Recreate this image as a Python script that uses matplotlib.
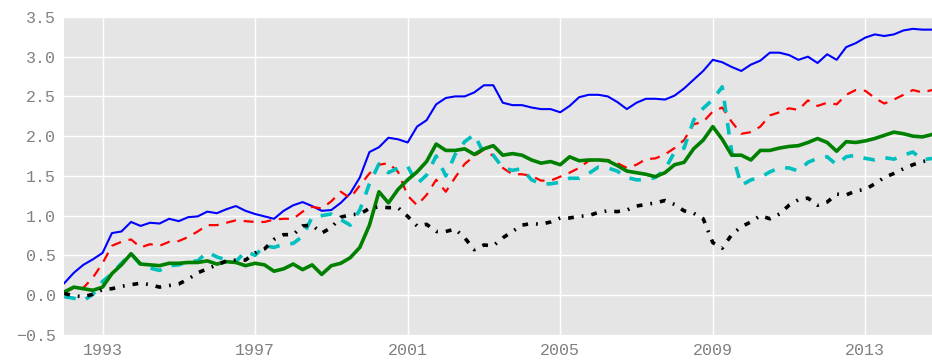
import numpy as np
import pandas as pd
import matplotlib
matplotlib.use("Agg")
import matplotlib.pyplot as plt
import matplotlib.dates as mdates

plt.style.use("ggplot")

# quarterly observations, 1992Q1 .. 2014Q4
fechas = pd.date_range("1992-01-01", periods=92, freq="QS")

azul = [0.15, 0.28, 0.38, 0.45, 0.53, 0.78, 0.80, 0.92, 0.87, 0.91, 0.90, 0.96,
        0.93, 0.98, 0.99, 1.05, 1.03, 1.08, 1.12, 1.06, 1.02, 0.99, 0.96, 1.06,
        1.13, 1.17, 1.12, 1.06, 1.07, 1.16, 1.28, 1.48, 1.80, 1.86, 1.98, 1.96,
        1.92, 2.12, 2.20, 2.40, 2.48, 2.50, 2.50, 2.55, 2.64, 2.64, 2.42, 2.39,
        2.39, 2.36, 2.34, 2.34, 2.30, 2.38, 2.49, 2.52, 2.52, 2.50, 2.43, 2.34,
        2.42, 2.47, 2.47, 2.46, 2.51, 2.60, 2.71, 2.82, 2.96, 2.93, 2.87, 2.82,
        2.90, 2.95, 3.05, 3.05, 3.02, 2.96, 3.00, 2.92, 3.03, 2.96, 3.12, 3.17,
        3.24, 3.28, 3.26, 3.28, 3.33, 3.35, 3.34, 3.34]

rojo = [0.03, 0.09, 0.09, 0.22, 0.40, 0.62, 0.67, 0.70, 0.60, 0.64, 0.62, 0.67,
        0.68, 0.73, 0.80, 0.88, 0.88, 0.91, 0.94, 0.93, 0.92, 0.92, 0.95, 0.96,
        0.96, 1.05, 1.11, 1.09, 1.18, 1.30, 1.22, 1.38, 1.53, 1.64, 1.66, 1.55,
        1.25, 1.13, 1.26, 1.45, 1.30, 1.48, 1.65, 1.75, 1.83, 1.75, 1.60, 1.52,
        1.52, 1.50, 1.44, 1.44, 1.49, 1.54, 1.60, 1.69, 1.70, 1.70, 1.66, 1.60,
        1.64, 1.71, 1.72, 1.77, 1.85, 1.95, 2.15, 2.18, 2.31, 2.36, 2.18, 2.03,
        2.05, 2.12, 2.26, 2.30, 2.35, 2.33, 2.45, 2.38, 2.42, 2.40, 2.52, 2.58,
        2.57, 2.48, 2.41, 2.46, 2.52, 2.58, 2.55, 2.58]

cian = [-0.02, -0.04, -0.07, 0.01, 0.17, 0.27, 0.40, 0.52, 0.38, 0.34, 0.31, 0.37,
        0.38, 0.42, 0.43, 0.54, 0.48, 0.44, 0.42, 0.55, 0.50, 0.62, 0.60, 0.64,
        0.65, 0.74, 0.98, 1.00, 1.02, 0.95, 0.88, 1.07, 1.40, 1.65, 1.54, 1.60,
        1.62, 1.40, 1.51, 1.75, 1.50, 1.77, 1.93, 2.02, 1.78, 1.76, 1.60, 1.57,
        1.59, 1.45, 1.40, 1.40, 1.42, 1.47, 1.47, 1.53, 1.61, 1.60, 1.56, 1.48,
        1.45, 1.45, 1.48, 1.58, 1.80, 1.85, 2.20, 2.35, 2.46, 2.62, 1.80, 1.38,
        1.45, 1.48, 1.55, 1.60, 1.60, 1.56, 1.67, 1.72, 1.74, 1.64, 1.74, 1.76,
        1.72, 1.70, 1.73, 1.71, 1.76, 1.80, 1.70, 1.72]

verde = [0.04, 0.10, 0.08, 0.06, 0.10, 0.27, 0.38, 0.52, 0.39, 0.38, 0.37, 0.40,
         0.40, 0.41, 0.41, 0.43, 0.39, 0.42, 0.41, 0.37, 0.40, 0.38, 0.30, 0.33,
         0.39, 0.32, 0.38, 0.26, 0.37, 0.40, 0.47, 0.60, 0.88, 1.30, 1.16, 1.33,
         1.45, 1.55, 1.68, 1.90, 1.82, 1.82, 1.84, 1.77, 1.84, 1.88, 1.76, 1.78,
         1.76, 1.70, 1.66, 1.68, 1.64, 1.74, 1.69, 1.70, 1.70, 1.69, 1.63, 1.56,
         1.54, 1.52, 1.49, 1.54, 1.64, 1.67, 1.84, 1.95, 2.12, 1.96, 1.76, 1.76,
         1.70, 1.82, 1.82, 1.85, 1.87, 1.88, 1.92, 1.97, 1.92, 1.81, 1.93, 1.92,
         1.94, 1.97, 2.01, 2.05, 2.03, 2.00, 1.99, 2.02]

negro = [0.02, -0.01, -0.02, 0.01, 0.07, 0.08, 0.11, 0.13, 0.15, 0.13, 0.10, 0.12,
         0.14, 0.20, 0.28, 0.33, 0.38, 0.43, 0.44, 0.44, 0.53, 0.58, 0.70, 0.76,
         0.76, 0.87, 0.88, 0.78, 0.85, 0.98, 1.01, 1.02, 1.09, 1.11, 1.10, 1.10,
         0.99, 0.87, 0.89, 0.80, 0.80, 0.83, 0.72, 0.57, 0.63, 0.62, 0.72, 0.80,
         0.88, 0.90, 0.89, 0.92, 0.97, 0.97, 0.99, 1.00, 1.04, 1.06, 1.05, 1.07,
         1.12, 1.14, 1.16, 1.19, 1.14, 1.06, 1.03, 0.96, 0.66, 0.59, 0.76, 0.86,
         0.92, 1.00, 0.96, 1.02, 1.13, 1.20, 1.22, 1.13, 1.17, 1.27, 1.26, 1.31,
         1.33, 1.40, 1.48, 1.53, 1.59, 1.64, 1.68, 1.70]

anios = ["1993", "1997", "2001", "2005", "2009", "2013"]

fig = plt.figure(figsize=(9.32, 3.6), dpi=100)
ax = fig.add_axes([0.069, 0.07, 0.931, 0.883])

ax.plot(fechas, azul, color="b", lw=1.5)
ax.plot(fechas, rojo, color="r", lw=1.6, dashes=(4.5, 3.5))
ax.plot(fechas, cian, color="c", lw=2.6, dashes=(3.2, 3.0))
ax.plot(fechas, verde, color="g", lw=2.6)
ax.plot(fechas, negro, color="k", lw=2.6, dashes=(1.6, 2.2, 0.5, 2.2))

ax.set_facecolor("#E5E5E5")
ax.grid(True, color="white", lw=1.0)
ax.set_axisbelow(True)
for s in ax.spines.values():
    s.set_visible(False)

ax.set_ylim(-0.5, 3.5)
ax.set_yticks(np.arange(-0.5, 3.51, 0.5))
ax.set_xlim(fechas[0], fechas[-1])
ax.set_xticks(pd.to_datetime(anios))
ax.xaxis.set_major_formatter(mdates.DateFormatter("%Y"))
ax.tick_params(length=0, labelsize=12, labelcolor="#808080", pad=6)
for lab in ax.get_xticklabels() + ax.get_yticklabels():
    lab.set_fontfamily("Liberation Mono")

plt.savefig("out.png", dpi=100)
